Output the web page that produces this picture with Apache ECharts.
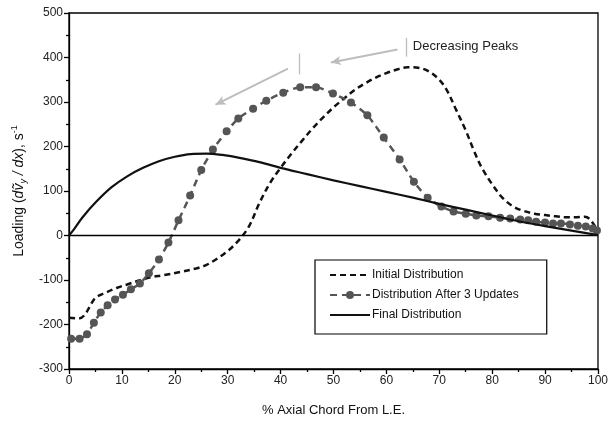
<!DOCTYPE html>
<html>
<head>
<meta charset="utf-8">
<script src="https://cdn.jsdelivr.net/npm/echarts@6/dist/echarts.min.js"></script>
<style>
html,body{margin:0;padding:0;background:#fff;}
#c{width:611px;height:427px;}
</style>
</head>
<body>
<div id="c"></div>
<script>
// ---- data ----
var seriesNames = ['Initial Distribution', 'Distribution After 3 Updates', 'Final Distribution'];

var initialX = [0, 2, 3, 4, 5, 7, 9, 11, 15, 18, 21, 24, 26, 28, 30, 32, 34, 36, 38, 40, 42, 44, 46, 48, 50, 52, 54, 56, 58, 60, 62, 64, 66, 68, 70, 71.5, 73, 75, 76.5, 78, 80, 82, 84, 86, 88, 90, 92, 94, 96, 97.5, 98.5, 100];
var initialY = [-185, -186, -178, -158, -140, -128, -118, -110, -95, -89, -82, -74, -66, -52, -35, -12, 20, 73, 118, 152, 183, 212, 240, 265, 288, 308, 327, 342, 355, 365, 373, 378, 377, 369, 350, 325, 287, 236, 192, 153, 115, 84, 65, 55, 49, 46, 43, 41, 41, 42, 36, 10];

var updatedX = [0.4, 2, 3.4, 4.7, 6, 7.3, 8.7, 10.2, 11.7, 13.4, 15.1, 17, 18.8, 20.7, 22.9, 25, 27.2, 29.8, 32, 34.8, 37.3, 40.5, 43.7, 46.7, 49.9, 53.3, 56.4, 59.5, 62.5, 65.2, 67.8, 70.4, 72.7, 75, 77, 79.3, 81.5, 83.4, 85.3, 86.8, 88.3, 90, 91.5, 93, 94.7, 96.2, 97.7, 99, 99.8];
var updatedY = [-232, -232, -222, -196, -173, -157, -144, -133, -121, -108, -85, -54, -16, 34, 90, 147, 193, 234, 263, 285, 303, 321, 333, 333, 319, 299, 270, 220, 171, 121, 85, 65, 54, 49, 45, 43, 40, 38, 36, 34, 31, 29, 27, 27, 25, 22, 20, 16, 11];

var finalX = [0, 1, 2.5, 5, 8, 11, 14, 17, 20, 23, 26, 29, 32, 36, 40, 45, 50, 55, 60, 65, 70, 75, 80, 85, 90, 95, 100];
var finalY = [0, 15, 40, 74, 108, 133, 152, 167, 177, 183, 184, 181, 175, 165, 152, 138, 124, 111, 98, 85, 71, 58, 45, 32, 21, 11, 1];

var xTicks = [0, 10, 20, 30, 40, 50, 60, 70, 80, 90, 100];
var yTicks = [-300, -200, -100, 0, 100, 200, 300, 400, 500];

var annotationText = 'Decreasing Peaks';

function pairs(xs, ys) { return xs.map(function (x, i) { return [x, ys[i]]; }); }

var chart = echarts.init(document.getElementById('c'), null, {renderer: 'canvas'});
var FONT = 'Liberation Sans, Arial, sans-serif';
var gray = '#bdbdbd';

var option = {
  animation: false,
  backgroundColor: '#fff',
  grid: {left: 69, right: 11, top: 13, bottom: 58, show: true, borderColor: '#000', borderWidth: 1.3, backgroundColor: 'transparent'},
  legend: {
    data: [
      {name: seriesNames[0], itemStyle: {opacity: 0}},
      {name: seriesNames[1]},
      {name: seriesNames[2], itemStyle: {opacity: 0}}
    ],
    orient: 'vertical',
    left: 315, top: 260,
    padding: [9, 28, 13, 14],
    borderColor: '#000', borderWidth: 1.2, borderRadius: 0,
    backgroundColor: '#fff',
    itemWidth: 40, itemHeight: 10, itemGap: 8,
    textStyle: {fontFamily: FONT, fontSize: 12, color: '#111', padding: [0, 0, 0, -3]},
    selectedMode: false
  },
  xAxis: {
    type: 'value', min: xTicks[0], max: xTicks[xTicks.length - 1], interval: 10,
    name: '% Axial Chord From L.E.', nameLocation: 'middle', nameGap: 35,
    nameTextStyle: {fontFamily: FONT, fontSize: 13, color: '#111'},
    axisLine: {show: true, onZero: false, lineStyle: {color: '#000', width: 1.3}},
    axisTick: {show: true, inside: false, length: 5, lineStyle: {color: '#000', width: 1.3}},
    minorTick: {show: true, splitNumber: 2, length: 3, lineStyle: {color: '#000', width: 1.3}},
    axisLabel: {fontFamily: FONT, fontSize: 12, color: '#222', margin: 6},
    splitLine: {show: false}
  },
  yAxis: {
    type: 'value', min: yTicks[0], max: yTicks[yTicks.length - 1], interval: 100,
    name: '{n|Loading (}{i|dṽ}{sub|y}{i| / dx}{n|), s}{sup|-1}',
    nameLocation: 'middle', nameGap: 37, nameRotate: 90,
    nameTextStyle: {
      fontFamily: FONT, fontSize: 14, color: '#111',
      rich: {
        n: {fontFamily: FONT, fontSize: 14, color: '#111', lineHeight: 18},
        i: {fontFamily: FONT, fontSize: 14, fontStyle: 'italic', color: '#111', lineHeight: 18},
        sub: {fontFamily: FONT, fontSize: 9, fontStyle: 'italic', color: '#111', verticalAlign: 'bottom', lineHeight: 18, padding: [6, 0, 0, 0]},
        sup: {fontFamily: FONT, fontSize: 9, color: '#111', verticalAlign: 'top', lineHeight: 18, padding: [0, 0, 6, 0]}
      }
    },
    axisLine: {show: true, onZero: false, lineStyle: {color: '#000', width: 1.3}},
    axisTick: {show: true, inside: false, length: 5, lineStyle: {color: '#000', width: 1.3}},
    minorTick: {show: true, splitNumber: 2, length: 3, lineStyle: {color: '#000', width: 1.3}},
    axisLabel: {fontFamily: FONT, fontSize: 12, color: '#222', margin: 6},
    splitLine: {show: false}
  },
  series: [
    {
      name: seriesNames[0], type: 'line', data: pairs(initialX, initialY),
      symbol: 'circle', showSymbol: false, smooth: 0.35, z: 3,
      color: '#111',
      lineStyle: {color: '#111', width: 2.5, type: [6, 4]}
    },
    {
      name: seriesNames[1], type: 'line', data: pairs(updatedX, updatedY),
      symbol: 'circle', symbolSize: 8, showSymbol: true, smooth: 0.25, z: 4,
      color: '#555',
      itemStyle: {color: '#555', borderWidth: 0},
      lineStyle: {color: '#555', width: 2.5, type: [7, 5]}
    },
    {
      name: seriesNames[2], type: 'line', data: pairs(finalX, finalY),
      symbol: 'circle', showSymbol: false, smooth: 0.35, z: 5,
      color: '#111',
      lineStyle: {color: '#111', width: 2.2, type: 'solid'},
      markLine: {
        silent: true, animation: false,
        symbol: ['none', 'none'],
        label: {show: false},
        emphasis: {disabled: true},
        data: [
          [{coord: [0, 0], lineStyle: {color: '#000', width: 1.3, type: 'solid'}}, {coord: [100, 0]}],
          [{coord: [62.1, 418], symbol: 'none', lineStyle: {color: gray, width: 2, type: 'solid'}}, {coord: [49.5, 389], symbol: 'arrow', symbolSize: [7, 10]}],
          [{coord: [41.4, 375], symbol: 'none', lineStyle: {color: gray, width: 2, type: 'solid'}}, {coord: [27.7, 294], symbol: 'arrow', symbolSize: [7, 10]}],
          [{coord: [63.8, 444], lineStyle: {color: gray, width: 1.3, type: 'solid'}}, {coord: [63.8, 402]}],
          [{coord: [43.5, 409], lineStyle: {color: gray, width: 1.3, type: 'solid'}}, {coord: [43.5, 362]}]
        ]
      }
    }
  ]
};
chart.setOption(option);

var p = chart.convertToPixel({gridIndex: 0}, [65, 425]);
chart.setOption({
  graphic: [{
    type: 'text', x: p[0], y: p[1], silent: true,
    style: {text: annotationText, fontFamily: FONT, fontSize: 13, fill: '#222', verticalAlign: 'middle', align: 'left'}
  }]
});
</script>
</body>
</html>
